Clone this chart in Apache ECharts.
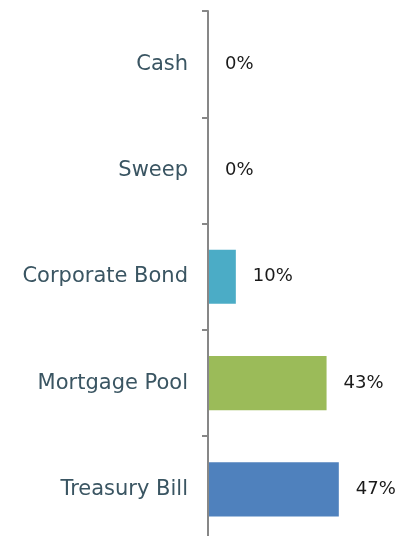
<!DOCTYPE html>
<html>
<head>
<meta charset="utf-8">
<script src="https://cdn.jsdelivr.net/npm/echarts@6/dist/echarts.min.js"></script>
<style>
  html, body { margin: 0; padding: 0; background: #fff; }
  #main { width: 407px; height: 536px; }
</style>
</head>
<body>
<div id="main"></div>
<script>
// top to bottom as shown
const categories = ['Cash', 'Sweep', 'Corporate Bond', 'Mortgage Pool', 'Treasury Bill'];
const shares = [0, 0, 10, 42.6, 47];
const barColors = ['#4BACC6', '#4BACC6', '#4BACC6', '#9BBB59', '#4F81BD'];

const chart = echarts.init(document.getElementById('main'));

chart.setOption({
  animation: false,
  grid: { left: 208, top: 11, width: 167, height: 531.5, containLabel: false, outerBoundsMode: 'none' },
  xAxis: {
    type: 'value',
    min: 0,
    max: 60,
    show: false
  },
  yAxis: {
    type: 'category',
    data: categories,
    inverse: true,
    z: 5,
    axisLine: { show: true, lineStyle: { color: '#878787', width: 2 } },
    axisTick: { show: true, length: 6, lineStyle: { color: '#878787', width: 2 } },
    axisLabel: {
      margin: 20,
      color: '#3a5562',
      fontFamily: 'DejaVu Sans',
      fontSize: 21,
      padding: [4, 0, 0, 0]
    }
  },
  series: [{
    type: 'bar',
    data: shares.map((v, i) => ({ value: v, itemStyle: { color: barColors[i] } })),
    barWidth: '51%',
    label: {
      show: true,
      position: 'right',
      distance: 17,
      color: '#1a1a1a',
      fontFamily: 'DejaVu Sans',
      fontSize: 18,
      padding: [4, 0, 0, 0],
      formatter: p => Math.round(p.value) + '%'
    }
  }]
});
</script>
</body>
</html>
